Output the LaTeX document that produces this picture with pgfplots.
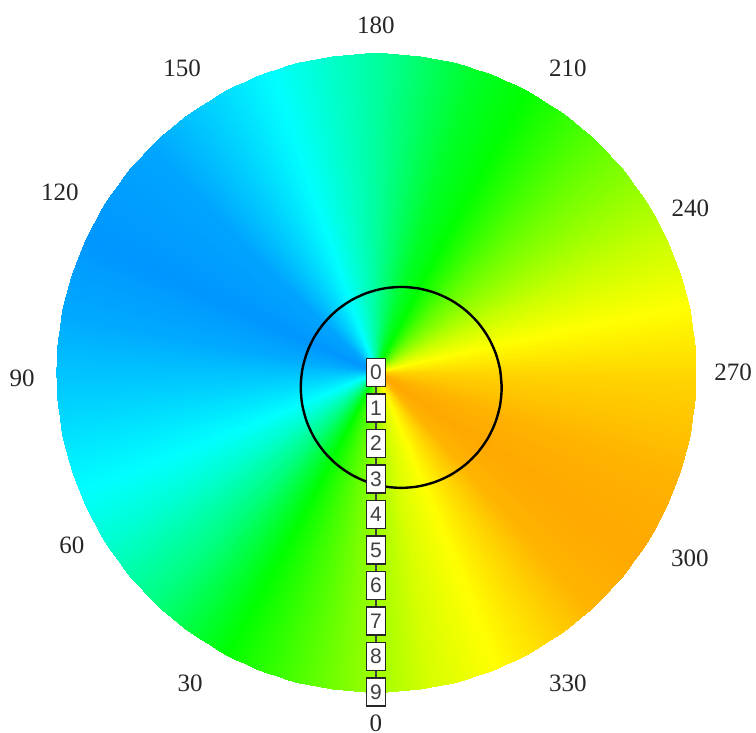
\documentclass[border=0pt]{standalone}
\usepackage{fontspec}
\setmainfont{Liberation Serif}
\newfontfamily\arial{Liberation Sans}
\usepackage{pgfplots}
\pgfplotsset{compat=1.18}
\usepgfplotslibrary{polar}
\begin{document}
\begin{tikzpicture}
\begin{polaraxis}[
  scale only axis, width=319.5pt, height=319.5pt,
  ymin=0, ymax=9,
  hide axis,
  clip=false,
  colormap={conic}{
    rgb255(0pt)=(160,255,0)
    rgb255(28pt)=(0,255,0)
    rgb255(44pt)=(0,255,128)
    rgb255(58pt)=(0,255,210)
    rgb255(68pt)=(0,255,255)
    rgb255(85pt)=(0,208,255)
    rgb255(100pt)=(0,170,255)
    rgb255(115pt)=(0,150,255)
    rgb255(135pt)=(0,165,255)
    rgb255(150pt)=(0,215,255)
    rgb255(161pt)=(0,255,255)
    rgb255(180pt)=(0,255,160)
    rgb255(198pt)=(0,255,40)
    rgb255(208pt)=(0,255,0)
    rgb255(225pt)=(100,255,0)
    rgb255(245pt)=(200,255,0)
    rgb255(258pt)=(255,255,0)
    rgb255(272pt)=(255,210,0)
    rgb255(290pt)=(255,178,0)
    rgb255(305pt)=(255,168,0)
    rgb255(318pt)=(255,180,0)
    rgb255(330pt)=(255,225,0)
    rgb255(338pt)=(255,255,0)
    rgb255(350pt)=(215,255,0)
    rgb255(360pt)=(160,255,0)
  },
  point meta min=0, point meta max=360,
]
% conic colour wheel: (pgf angle, radius) [label angle]
\addplot[surf, shader=interp, mesh/rows=2, point meta=explicit] coordinates {
(270,0) [0] (268,0) [2] (266,0) [4] (264,0) [6] (262,0) [8] (260,0) [10] (258,0) [12] (256,0) [14] (254,0) [16] (252,0) [18]
(250,0) [20] (248,0) [22] (246,0) [24] (244,0) [26] (242,0) [28] (240,0) [30] (238,0) [32] (236,0) [34] (234,0) [36] (232,0) [38]
(230,0) [40] (228,0) [42] (226,0) [44] (224,0) [46] (222,0) [48] (220,0) [50] (218,0) [52] (216,0) [54] (214,0) [56] (212,0) [58]
(210,0) [60] (208,0) [62] (206,0) [64] (204,0) [66] (202,0) [68] (200,0) [70] (198,0) [72] (196,0) [74] (194,0) [76] (192,0) [78]
(190,0) [80] (188,0) [82] (186,0) [84] (184,0) [86] (182,0) [88] (180,0) [90] (178,0) [92] (176,0) [94] (174,0) [96] (172,0) [98]
(170,0) [100] (168,0) [102] (166,0) [104] (164,0) [106] (162,0) [108] (160,0) [110] (158,0) [112] (156,0) [114] (154,0) [116] (152,0) [118]
(150,0) [120] (148,0) [122] (146,0) [124] (144,0) [126] (142,0) [128] (140,0) [130] (138,0) [132] (136,0) [134] (134,0) [136] (132,0) [138]
(130,0) [140] (128,0) [142] (126,0) [144] (124,0) [146] (122,0) [148] (120,0) [150] (118,0) [152] (116,0) [154] (114,0) [156] (112,0) [158]
(110,0) [160] (108,0) [162] (106,0) [164] (104,0) [166] (102,0) [168] (100,0) [170] (98,0) [172] (96,0) [174] (94,0) [176] (92,0) [178]
(90,0) [180] (88,0) [182] (86,0) [184] (84,0) [186] (82,0) [188] (80,0) [190] (78,0) [192] (76,0) [194] (74,0) [196] (72,0) [198]
(70,0) [200] (68,0) [202] (66,0) [204] (64,0) [206] (62,0) [208] (60,0) [210] (58,0) [212] (56,0) [214] (54,0) [216] (52,0) [218]
(50,0) [220] (48,0) [222] (46,0) [224] (44,0) [226] (42,0) [228] (40,0) [230] (38,0) [232] (36,0) [234] (34,0) [236] (32,0) [238]
(30,0) [240] (28,0) [242] (26,0) [244] (24,0) [246] (22,0) [248] (20,0) [250] (18,0) [252] (16,0) [254] (14,0) [256] (12,0) [258]
(10,0) [260] (8,0) [262] (6,0) [264] (4,0) [266] (2,0) [268] (0,0) [270] (-2,0) [272] (-4,0) [274] (-6,0) [276] (-8,0) [278]
(-10,0) [280] (-12,0) [282] (-14,0) [284] (-16,0) [286] (-18,0) [288] (-20,0) [290] (-22,0) [292] (-24,0) [294] (-26,0) [296] (-28,0) [298]
(-30,0) [300] (-32,0) [302] (-34,0) [304] (-36,0) [306] (-38,0) [308] (-40,0) [310] (-42,0) [312] (-44,0) [314] (-46,0) [316] (-48,0) [318]
(-50,0) [320] (-52,0) [322] (-54,0) [324] (-56,0) [326] (-58,0) [328] (-60,0) [330] (-62,0) [332] (-64,0) [334] (-66,0) [336] (-68,0) [338]
(-70,0) [340] (-72,0) [342] (-74,0) [344] (-76,0) [346] (-78,0) [348] (-80,0) [350] (-82,0) [352] (-84,0) [354] (-86,0) [356] (-88,0) [358]
(-90,0) [360]
(270,9) [0] (268,9) [2] (266,9) [4] (264,9) [6] (262,9) [8] (260,9) [10] (258,9) [12] (256,9) [14] (254,9) [16] (252,9) [18]
(250,9) [20] (248,9) [22] (246,9) [24] (244,9) [26] (242,9) [28] (240,9) [30] (238,9) [32] (236,9) [34] (234,9) [36] (232,9) [38]
(230,9) [40] (228,9) [42] (226,9) [44] (224,9) [46] (222,9) [48] (220,9) [50] (218,9) [52] (216,9) [54] (214,9) [56] (212,9) [58]
(210,9) [60] (208,9) [62] (206,9) [64] (204,9) [66] (202,9) [68] (200,9) [70] (198,9) [72] (196,9) [74] (194,9) [76] (192,9) [78]
(190,9) [80] (188,9) [82] (186,9) [84] (184,9) [86] (182,9) [88] (180,9) [90] (178,9) [92] (176,9) [94] (174,9) [96] (172,9) [98]
(170,9) [100] (168,9) [102] (166,9) [104] (164,9) [106] (162,9) [108] (160,9) [110] (158,9) [112] (156,9) [114] (154,9) [116] (152,9) [118]
(150,9) [120] (148,9) [122] (146,9) [124] (144,9) [126] (142,9) [128] (140,9) [130] (138,9) [132] (136,9) [134] (134,9) [136] (132,9) [138]
(130,9) [140] (128,9) [142] (126,9) [144] (124,9) [146] (122,9) [148] (120,9) [150] (118,9) [152] (116,9) [154] (114,9) [156] (112,9) [158]
(110,9) [160] (108,9) [162] (106,9) [164] (104,9) [166] (102,9) [168] (100,9) [170] (98,9) [172] (96,9) [174] (94,9) [176] (92,9) [178]
(90,9) [180] (88,9) [182] (86,9) [184] (84,9) [186] (82,9) [188] (80,9) [190] (78,9) [192] (76,9) [194] (74,9) [196] (72,9) [198]
(70,9) [200] (68,9) [202] (66,9) [204] (64,9) [206] (62,9) [208] (60,9) [210] (58,9) [212] (56,9) [214] (54,9) [216] (52,9) [218]
(50,9) [220] (48,9) [222] (46,9) [224] (44,9) [226] (42,9) [228] (40,9) [230] (38,9) [232] (36,9) [234] (34,9) [236] (32,9) [238]
(30,9) [240] (28,9) [242] (26,9) [244] (24,9) [246] (22,9) [248] (20,9) [250] (18,9) [252] (16,9) [254] (14,9) [256] (12,9) [258]
(10,9) [260] (8,9) [262] (6,9) [264] (4,9) [266] (2,9) [268] (0,9) [270] (-2,9) [272] (-4,9) [274] (-6,9) [276] (-8,9) [278]
(-10,9) [280] (-12,9) [282] (-14,9) [284] (-16,9) [286] (-18,9) [288] (-20,9) [290] (-22,9) [292] (-24,9) [294] (-26,9) [296] (-28,9) [298]
(-30,9) [300] (-32,9) [302] (-34,9) [304] (-36,9) [306] (-38,9) [308] (-40,9) [310] (-42,9) [312] (-44,9) [314] (-46,9) [316] (-48,9) [318]
(-50,9) [320] (-52,9) [322] (-54,9) [324] (-56,9) [326] (-58,9) [328] (-60,9) [330] (-62,9) [332] (-64,9) [334] (-66,9) [336] (-68,9) [338]
(-70,9) [340] (-72,9) [342] (-74,9) [344] (-76,9) [346] (-78,9) [348] (-80,9) [350] (-82,9) [352] (-84,9) [354] (-86,9) [356] (-88,9) [358]
(-90,9) [360]
};
% black circle
\addplot[black, line width=1.2pt, smooth, data cs=cart, mark=none] coordinates {
(3.540,-0.420) (3.497,0.071) (3.369,0.548) (3.161,0.995) (2.878,1.399) (2.529,1.748)
(2.125,2.031) (1.678,2.239) (1.201,2.367) (0.710,2.410) (0.219,2.367) (-0.258,2.239)
(-0.705,2.031) (-1.109,1.748) (-1.458,1.399) (-1.741,0.995) (-1.949,0.548) (-2.077,0.071)
(-2.120,-0.420) (-2.077,-0.911) (-1.949,-1.388) (-1.741,-1.835) (-1.458,-2.239) (-1.109,-2.588)
(-0.705,-2.871) (-0.258,-3.079) (0.219,-3.207) (0.710,-3.250) (1.201,-3.207) (1.678,-3.079)
(2.125,-2.871) (2.529,-2.588) (2.878,-2.239) (3.161,-1.835) (3.369,-1.388) (3.497,-0.911)
(3.540,-0.420) (3.497,0.071)
};
% radial axis line and boxed labels
\draw[black!75, line width=0.6pt] (axis cs:270,0) -- (axis cs:270,9);
\tikzset{rl/.style={draw=black!85, line width=0.55pt, fill=white, font=\arial\fontsize{10.5pt}{10.5pt}\selectfont, text=black!75, minimum width=9.8pt, minimum height=14pt, inner sep=0pt}}
\node[rl] at (axis cs:270,0) {0};
\node[rl] at (axis cs:270,1) {1};
\node[rl] at (axis cs:270,2) {2};
\node[rl] at (axis cs:270,3) {3};
\node[rl] at (axis cs:270,4) {4};
\node[rl] at (axis cs:270,5) {5};
\node[rl] at (axis cs:270,6) {6};
\node[rl] at (axis cs:270,7) {7};
\node[rl] at (axis cs:270,8) {8};
\node[rl] at (axis cs:270,9) {9};
% angular labels
\tikzset{al/.style={font=\fontsize{12.5pt}{12.5pt}\selectfont, text=black!85, inner sep=0pt}}
\node[al] at (axis cs:270,9.87) {0};
\node[al] at (axis cs:239.1,10.2) {30};
\node[al] at (axis cs:209.6,9.85) {60};
\node[al] at (axis cs:180.9,9.97) {90};
\node[al] at (axis cs:150.3,10.25) {120};
\node[al] at (axis cs:122.5,10.17) {150};
\node[al] at (axis cs:90,9.79) {180};
\node[al] at (axis cs:57.8,10.14) {210};
\node[al] at (axis cs:27.6,9.99) {240};
\node[al] at (axis cs:0,10.06) {270};
\node[al] at (axis cs:-30.6,10.27) {300};
\node[al] at (axis cs:-58.3,10.28) {330};
\coordinate (O) at (axis cs:0,0);
\end{polaraxis}
\pgfresetboundingbox
\path[use as bounding box] ([shift={(-188pt,-180.25pt)}]O) rectangle ([shift={(190pt,186.25pt)}]O);
\end{tikzpicture}
\end{document}
